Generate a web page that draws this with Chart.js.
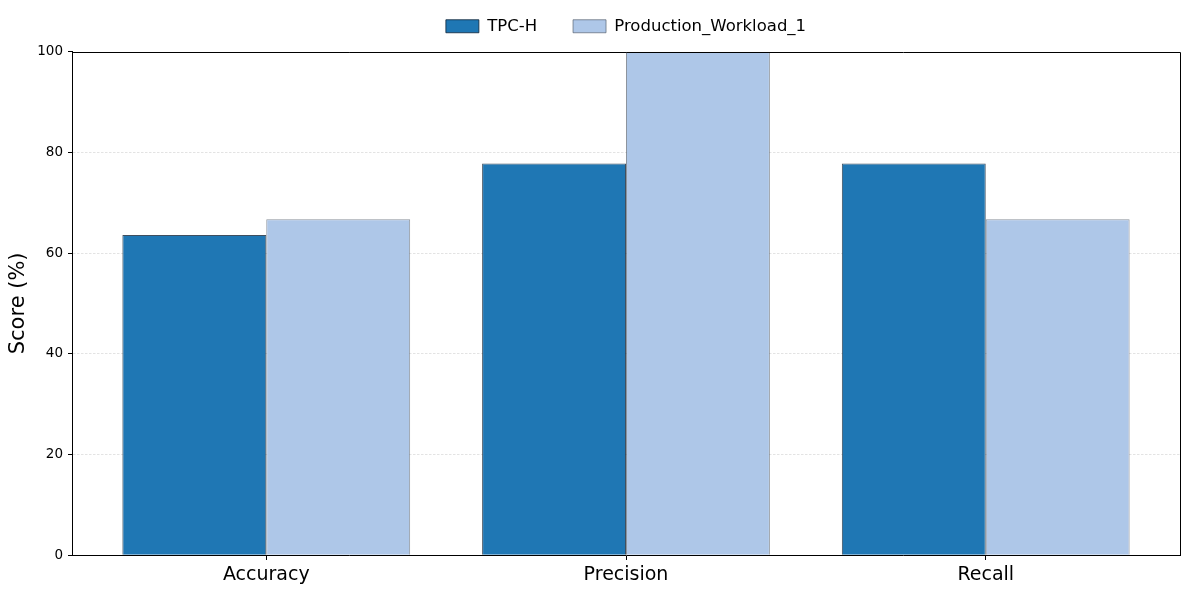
<!DOCTYPE html>
<html>
<head>
<meta charset="utf-8">
<script src="https://cdn.jsdelivr.net/npm/chart.js@4/dist/chart.umd.min.js"></script>
<style>
  html, body { margin: 0; padding: 0; background: #fff; }
  #wrap { width: 1189px; height: 594px; }
</style>
</head>
<body>
<div id="wrap"><canvas id="chart"></canvas></div>
<script>
// dados do gráfico
const categories = ['Accuracy', 'Precision', 'Recall'];
const tpchScores = [63.6, 77.8, 77.8];
const productionScores = [66.7, 100, 66.7];
const yTicks = [0, 20, 40, 60, 80, 100];

const font = 'DejaVu Sans';

// linhas pretas no topo e à direita da área do gráfico
const frame = {
  id: 'frame',
  afterDatasetsDraw(chart) {
    const { ctx, chartArea: a } = chart;
    ctx.save();
    ctx.strokeStyle = '#000';
    ctx.lineWidth = 1;
    ctx.beginPath();
    ctx.moveTo(a.left, Math.round(a.top) + 0.5);
    ctx.lineTo(Math.round(a.right) + 0.5, Math.round(a.top) + 0.5);
    ctx.lineTo(Math.round(a.right) + 0.5, a.bottom);
    ctx.stroke();
    ctx.restore();
  }
};

const toPoints = (values) => values.map((v, i) => ({ x: i, y: v }));

new Chart(document.getElementById('chart'), {
  type: 'bar',
  data: {
    datasets: [
      {
        label: 'TPC-H',
        data: toPoints(tpchScores),
        backgroundColor: '#1f77b4',
        borderColor: 'rgba(15,35,55,0.8)',
        borderWidth: 1
      },
      {
        label: 'Production_Workload_1',
        data: toPoints(productionScores),
        backgroundColor: '#aec7e8',
        borderColor: 'rgba(80,90,105,0.65)',
        borderWidth: 1
      }
    ]
  },
  options: {
    responsive: true,
    maintainAspectRatio: false,
    animation: false,
    categoryPercentage: 0.8,
    barPercentage: 1,
    layout: { padding: { top: -18, right: 9, left: 0, bottom: 0 } },
    plugins: {
      legend: {
        position: 'top',
        fullSize: false,
        weight: 1000,
        labels: {
          font: { family: font, size: 16.5 },
          color: '#000',
          boxWidth: 33,
          boxHeight: 13,
          padding: 36
        }
      },
      // título vazio só para dar espaço entre a legenda e o gráfico
      title: {
        display: true,
        text: '',
        position: 'top',
        fullSize: false,
        weight: 500,
        font: { size: 1 },
        padding: { top: 6, bottom: 0 }
      },
      tooltip: { enabled: false }
    },
    scales: {
      x: {
        type: 'linear',
        min: -0.54,
        max: 2.54,
        offset: false,
        afterBuildTicks: (scale) => { scale.ticks = categories.map((_, i) => ({ value: i })); },
        afterFit: (scale) => { scale.height = 39; },
        ticks: {
          callback: (v) => categories[v],
          font: { family: font, size: 19 },
          color: '#000',
          padding: 4,
          maxRotation: 0
        },
        grid: { offset: false, drawOnChartArea: false, drawTicks: true, tickLength: 5, tickColor: '#000' },
        border: { display: true, color: '#000', width: 1 }
      },
      y: {
        min: 0,
        max: 100,
        afterBuildTicks: (scale) => { scale.ticks = yTicks.map(v => ({ value: v })); },
        afterFit: (scale) => { scale.width = 72; },
        ticks: {
          font: { family: font, size: 13.5 },
          color: '#000',
          padding: 5
        },
        title: {
          display: true,
          text: 'Score (%)',
          font: { family: font, size: 21 },
          color: '#000',
          padding: { top: 6, bottom: 0 }
        },
        grid: {
          color: (c) => (c.tick && (c.tick.value === 0 || c.tick.value === 100)) ? 'rgba(0,0,0,0)' : 'rgba(0,0,0,0.16)',
          lineWidth: 0.7,
          tickLength: 4,
          tickColor: '#000',
          tickWidth: 1
        },
        border: { display: true, color: '#000', width: 1, dash: [2.5, 1.5] }
      }
    }
  },
  plugins: [frame]
});
</script>
</body>
</html>
